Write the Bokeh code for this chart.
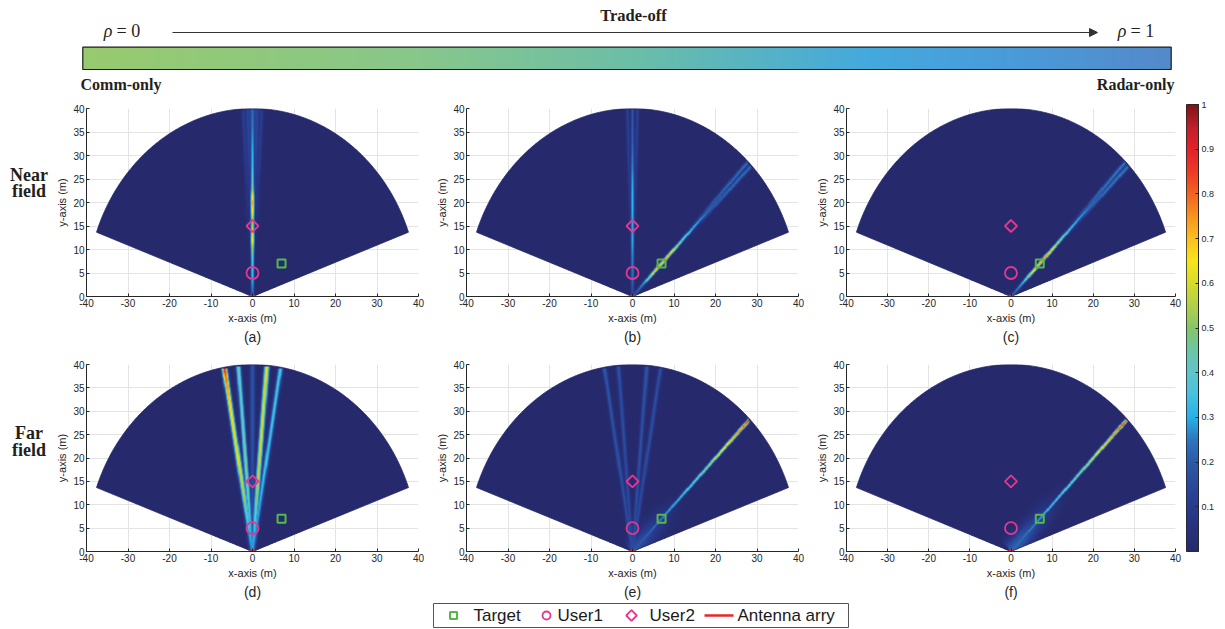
import numpy as np
from bokeh.plotting import figure
from bokeh.layouts import column, row
from bokeh.models import (Range1d, FixedTicker, LinearColorMapper, Arrow, NormalHead, Title)
from bokeh.core.properties import value
from bokeh.embed import file_html
from bokeh.resources import INLINE

# ---------------- data ----------------
X_TICKS = [-40, -30, -20, -10, 0, 10, 20, 30, 40]
Y_TICKS = [0, 5, 10, 15, 20, 25, 30, 35, 40]
CB_TICKS = [0.1, 0.2, 0.3, 0.4, 0.5, 0.6, 0.7, 0.8, 0.9, 1.0]
PANEL_NAMES = ["(a)", "(b)", "(c)", "(d)", "(e)", "(f)"]
ROW_NAMES = [["Near", "field"], ["Far", "field"]]
LEGEND_LABELS = ["Target", "User1", "User2", "Antenna arry"]
TOP_LEFT = "Comm-only"
TOP_RIGHT = "Radar-only"
TOP_MID = "Trade-off"

TARGET_X, TARGET_Y = [7.0], [7.0]
USER1_X, USER1_Y = [0.0], [5.0]
USER2_X, USER2_Y = [0.0], [15.0]
ANTENNA_X, ANTENNA_Y = [-0.6, 0.6], [0.0, 0.0]

SECTOR_R = 40.0
SECTOR_MIN_DEG, SECTOR_MAX_DEG = 20.0, 160.0

R_SAMPLES = [0, 4, 8, 12, 16, 20, 24, 28, 32, 36, 40]

# each beam: (direction deg, half-width m, normalised gain at R_SAMPLES)
BEAMS_A = [
    (90.0, 0.26, [0.20, 0.32, 0.36, 0.65, 0.52, 0.76, 0.40, 0.33, 0.30, 0.26, 0.23]),
    (88.3, 0.30, [0.00, 0.00, 0.02, 0.04, 0.06, 0.08, 0.10, 0.12, 0.14, 0.15, 0.15]),
    (91.7, 0.30, [0.00, 0.00, 0.02, 0.04, 0.06, 0.08, 0.10, 0.12, 0.14, 0.15, 0.15]),
    (86.8, 0.35, [0.00, 0.00, 0.00, 0.02, 0.04, 0.06, 0.08, 0.10, 0.11, 0.12, 0.12]),
    (93.2, 0.35, [0.00, 0.00, 0.00, 0.02, 0.04, 0.06, 0.08, 0.10, 0.11, 0.12, 0.12]),
    (90.0, 1.00, [0.00, 0.00, 0.00, 0.00, 0.03, 0.06, 0.09, 0.12, 0.14, 0.15, 0.16]),
]
BEAMS_B = [
    (90.0, 0.24, [0.12, 0.24, 0.26, 0.30, 0.30, 0.32, 0.30, 0.26, 0.22, 0.20, 0.18]),
    (88.3, 0.30, [0.00, 0.00, 0.00, 0.03, 0.05, 0.07, 0.09, 0.11, 0.12, 0.13, 0.13]),
    (91.7, 0.30, [0.00, 0.00, 0.00, 0.03, 0.05, 0.07, 0.09, 0.11, 0.12, 0.13, 0.13]),
    (45.0, 0.25, [0.15, 0.30, 0.74, 0.76, 0.48, 0.34, 0.27, 0.20, 0.14, 0.10, 0.08]),
    (44.2, 0.30, [0.00, 0.00, 0.00, 0.00, 0.02, 0.06, 0.13, 0.20, 0.23, 0.24, 0.24]),
    (45.8, 0.30, [0.00, 0.00, 0.00, 0.00, 0.02, 0.06, 0.13, 0.20, 0.23, 0.24, 0.24]),
]
BEAMS_C = [
    (45.0, 0.25, [0.18, 0.32, 0.72, 0.80, 0.56, 0.37, 0.30, 0.24, 0.18, 0.14, 0.12]),
    (44.2, 0.30, [0.00, 0.00, 0.00, 0.00, 0.02, 0.07, 0.14, 0.21, 0.25, 0.26, 0.26]),
    (45.8, 0.30, [0.00, 0.00, 0.00, 0.00, 0.02, 0.07, 0.14, 0.21, 0.25, 0.26, 0.26]),
]
BEAMS_D = [
    (99.8, 0.42, [0.28, 0.32, 0.42, 0.55, 0.60, 0.63, 0.64, 0.66, 0.70, 0.78, 0.90]),
    (94.9, 0.40, [0.26, 0.30, 0.36, 0.42, 0.46, 0.48, 0.46, 0.44, 0.42, 0.42, 0.44]),
    (85.0, 0.42, [0.28, 0.32, 0.42, 0.52, 0.58, 0.60, 0.62, 0.62, 0.62, 0.62, 0.62]),
    (80.2, 0.40, [0.24, 0.28, 0.30, 0.32, 0.34, 0.35, 0.35, 0.36, 0.36, 0.37, 0.37]),
    (90.0, 0.40, [0.20, 0.20, 0.18, 0.16, 0.16, 0.16, 0.17, 0.18, 0.18, 0.18, 0.18]),
]
BEAMS_E = [
    (99.8, 0.35, [0.15, 0.16, 0.16, 0.17, 0.17, 0.18, 0.18, 0.18, 0.19, 0.19, 0.20]),
    (94.9, 0.35, [0.15, 0.15, 0.15, 0.16, 0.16, 0.16, 0.17, 0.17, 0.17, 0.17, 0.18]),
    (85.0, 0.35, [0.15, 0.16, 0.16, 0.17, 0.17, 0.18, 0.18, 0.18, 0.19, 0.19, 0.19]),
    (80.2, 0.35, [0.15, 0.15, 0.15, 0.16, 0.16, 0.16, 0.17, 0.17, 0.17, 0.17, 0.17]),
    (45.0, 0.25, [0.20, 0.22, 0.25, 0.30, 0.34, 0.40, 0.48, 0.58, 0.70, 0.80, 0.92]),
    (45.0, 1.50, [0.18, 0.15, 0.10, 0.05, 0.00, 0.00, 0.00, 0.00, 0.00, 0.00, 0.00]),
]
BEAMS_F = [
    (45.0, 0.25, [0.22, 0.25, 0.28, 0.33, 0.37, 0.43, 0.50, 0.60, 0.72, 0.82, 0.92]),
    (45.0, 1.50, [0.22, 0.20, 0.14, 0.08, 0.03, 0.00, 0.00, 0.00, 0.00, 0.00, 0.00]),
]
PANEL_BEAMS = [BEAMS_A, BEAMS_B, BEAMS_C, BEAMS_D, BEAMS_E, BEAMS_F]

# ---------------- style ----------------
GREEN = "#55B948"
MAGENTA = "#E4378F"
RED = "#E8262A"
AXC = "#262626"
GRIDC = "#E4E4E4"
SANS = "Liberation Sans"
SERIF = "Liberation Serif"
INK = "#231F20"

CMAP_ANCHORS = [
    (0.00, "#262A6C"), (0.10, "#283A8F"), (0.20, "#2C5AA8"), (0.25, "#2D77BE"),
    (0.30, "#27B2E8"), (0.35, "#48C1E0"), (0.40, "#5FC5CA"), (0.45, "#6CC5A6"),
    (0.50, "#86C66A"), (0.55, "#B0D04A"), (0.60, "#D6DC2A"), (0.65, "#F8E51A"),
    (0.70, "#FAC01E"), (0.75, "#F7941E"), (0.80, "#F26522"), (0.85, "#EE3A24"),
    (0.90, "#E3222A"), (0.95, "#C0202A"), (1.00, "#7E1416"),
]
TRADE_ANCHORS = [
    (0.00, "#98CA6E"), (0.30, "#88C78A"), (0.50, "#6DBEA6"), (0.72, "#44A9DD"),
    (0.86, "#4A9AD8"), (1.00, "#5489CA"),
]


def interp_palette(anchors, n=256):
    pos = np.array([a[0] for a in anchors])
    rgb = np.array([[int(h[i:i + 2], 16) for i in (1, 3, 5)] for _, h in anchors], float)
    out = []
    for v in np.linspace(0, 1, n):
        c = [int(round(np.interp(v, pos, rgb[:, k]))) for k in range(3)]
        out.append("#%02x%02x%02x" % tuple(c))
    return out


PAL = interp_palette(CMAP_ANCHORS)
TRADE_PAL = interp_palette(TRADE_ANCHORS)
cmap = LinearColorMapper(palette=PAL, low=0, high=1, nan_color="rgba(0,0,0,0)")

NX, NY = 640, 320


def field(beams):
    xc = -SECTOR_R + (np.arange(NX) + 0.5) * 2 * SECTOR_R / NX
    yc = (np.arange(NY) + 0.5) * SECTOR_R / NY
    X, Y = np.meshgrid(xc, yc)
    R = np.hypot(X, Y)
    TH = np.degrees(np.arctan2(Y, X))
    Z = np.zeros_like(R)
    for ang, sig, prof in beams:
        a = np.radians(ang)
        along = X * np.cos(a) + Y * np.sin(a)
        perp = -X * np.sin(a) + Y * np.cos(a)
        gain = np.interp(R, R_SAMPLES, prof)
        v = gain * np.exp(-0.5 * (perp / sig) ** 2)
        v[along < 0] = 0
        Z = np.maximum(Z, v)
    Z = np.clip(Z, 0, 1)
    # keep the raster just inside the smooth sector patch drawn below it
    inside = (R <= SECTOR_R - 0.25) & (TH >= SECTOR_MIN_DEG + 0.5) & (TH <= SECTOR_MAX_DEG - 0.5)
    Z[~inside] = np.nan
    return Z.astype(np.float32)


def sector_outline():
    t = np.radians(np.linspace(SECTOR_MIN_DEG, SECTOR_MAX_DEG, 241))
    xs = np.concatenate([[0.0], SECTOR_R * np.cos(t), [0.0]])
    ys = np.concatenate([[0.0], SECTOR_R * np.sin(t), [0.0]])
    return xs, ys


SECTOR_XS, SECTOR_YS = sector_outline()


def style_axis(ax, label, ticks):
    ax.axis_label = label
    ax.axis_label_text_font = SANS
    ax.axis_label_text_font_size = "11px"
    ax.axis_label_text_font_style = "normal"
    ax.axis_label_text_color = AXC
    ax.axis_label_standoff = 2
    ax.major_label_text_font = SANS
    ax.major_label_text_font_size = "10px"
    ax.major_label_text_color = AXC
    ax.major_label_standoff = 2
    ax.major_label_overrides = {t: str(t) for t in ticks}
    ax.axis_line_color = AXC
    ax.major_tick_line_color = AXC
    ax.major_tick_in = 3
    ax.major_tick_out = 0
    ax.minor_tick_line_color = None


def make_panel(idx, height, mb_bottom, mb_right, frame_w):
    p = figure(width=32 + frame_w + mb_right, height=height,
               x_range=Range1d(-40, 40), y_range=Range1d(0, 40),
               output_backend="svg", toolbar_location=None,
               min_border_left=32, min_border_right=mb_right,
               min_border_top=8, min_border_bottom=mb_bottom)
    p.outline_line_color = None
    p.xaxis.ticker = FixedTicker(ticks=X_TICKS)
    p.yaxis.ticker = FixedTicker(ticks=Y_TICKS)
    style_axis(p.xaxis[0], "x-axis (m)", X_TICKS)
    style_axis(p.yaxis[0], "y-axis (m)", Y_TICKS)
    p.grid.grid_line_color = GRIDC
    p.grid.grid_line_width = 1
    p.patch(SECTOR_XS, SECTOR_YS, fill_color=PAL[0], line_color=PAL[0], line_width=0.8)
    p.image(image=[field(PANEL_BEAMS[idx])], x=-SECTOR_R, y=0, dw=2 * SECTOR_R, dh=SECTOR_R,
            color_mapper=cmap)
    p.line(ANTENNA_X, ANTENNA_Y, line_color=RED, line_width=3.5)
    p.scatter(TARGET_X, TARGET_Y, marker="square", size=8, fill_color=None,
              line_color=GREEN, line_width=2)
    p.scatter(USER1_X, USER1_Y, marker="circle", size=12, fill_color=None,
              line_color=MAGENTA, line_width=1.8)
    p.scatter(USER2_X, USER2_Y, marker="square", angle=np.pi / 4, size=8.5, fill_color=None,
              line_color=MAGENTA, line_width=1.8)
    p.add_layout(Title(text=PANEL_NAMES[idx], align="center", text_font=SANS,
                       text_font_size="14px", text_font_style="normal",
                       text_color=AXC, standoff=0), "below")
    return p


def make_row_label(lines, height, y_first):
    p = figure(width=53, height=height, x_range=Range1d(0, 45), y_range=Range1d(0, height),
               output_backend="svg", toolbar_location=None, min_border=0, min_border_left=8,
               x_axis_location=None, y_axis_location=None)
    p.grid.visible = False
    p.outline_line_color = None
    p.text(x=[20.5, 20.5], y=[y_first, y_first - 23], text=lines,
           text_font=value(SERIF), text_font_style="bold", text_font_size="18px",
           text_align="center", text_baseline="middle", text_color=INK)
    return p


# ---------------- top banner ----------------
top = figure(width=1217, height=100, x_range=Range1d(0, 1209), y_range=Range1d(0, 92),
             output_backend="svg", toolbar_location=None, min_border=0,
             min_border_left=8, min_border_top=8,
             x_axis_location=None, y_axis_location=None)
top.grid.visible = False
top.outline_line_color = None
top.image(image=[np.linspace(0, 1, 256).reshape(1, -1)], x=74.3, y=31, dw=1088.4, dh=22.3,
          color_mapper=LinearColorMapper(palette=TRADE_PAL, low=0, high=1))
top.quad(left=[74.3], right=[1162.7], bottom=[31], top=[53.3], fill_color=None,
         line_color="#1a1a1a", line_width=1.2)
top.add_layout(Arrow(x_start=164, y_start=68, x_end=1089, y_end=68, line_color="#333333",
                     line_width=1, end=NormalHead(size=8, fill_color="#333333",
                                                  line_color="#333333")))
top.text(x=[625], y=[85], text=[TOP_MID], text_font=value(SERIF), text_font_style="bold",
         text_font_size="16.5px", text_align="center", text_baseline="middle",
         text_color=INK)
top.text(x=[104, 1118], y=[70, 70], text=["ρ", "ρ"], text_font=value(SERIF),
         text_font_style="italic", text_font_size="18px", text_align="right",
         text_baseline="middle", text_color=INK)
top.text(x=[108, 1122], y=[70, 70], text=["= 0", "= 1"], text_font=value(SERIF),
         text_font_size="18px", text_align="left", text_baseline="middle",
         text_color=INK)
top.text(x=[72], y=[16], text=[TOP_LEFT], text_font=value(SERIF), text_font_style="bold",
         text_font_size="16px", text_align="left", text_baseline="middle",
         text_color=INK)
top.text(x=[1166], y=[16], text=[TOP_RIGHT], text_font=value(SERIF), text_font_style="bold",
         text_font_size="16px", text_align="right", text_baseline="middle",
         text_color=INK)

# ---------------- panels ----------------
NEAR_H, FAR_H = 256, 246
fa = make_panel(0, NEAR_H, 60, 15, 333)
fb = make_panel(1, NEAR_H, 60, 15, 333)
fc = make_panel(2, NEAR_H, 60, 6, 330)
fd = make_panel(3, FAR_H, 51, 15, 333)
fe = make_panel(4, FAR_H, 51, 15, 333)
ff = make_panel(5, FAR_H, 51, 6, 330)
lab_near = make_row_label(ROW_NAMES[0], NEAR_H, 166)
lab_far = make_row_label(ROW_NAMES[1], FAR_H, 156)

# ---------------- colour bar ----------------
cb = figure(width=36, height=NEAR_H + FAR_H, x_range=Range1d(0, 1), y_range=Range1d(0, 1),
            output_backend="svg", toolbar_location=None,
            min_border_left=5, min_border_right=17, min_border_top=4, min_border_bottom=51,
            x_axis_location=None, y_axis_location="right")
cb.grid.visible = False
cb.image(image=[np.linspace(0, 1, 256).reshape(-1, 1)], x=0, y=0, dw=1, dh=1, color_mapper=cmap)
cb.outline_line_color = AXC
cb.yaxis.ticker = FixedTicker(ticks=CB_TICKS)
cbax = cb.yaxis[0]
cbax.major_label_text_font = SANS
cbax.major_label_text_font_size = "9px"
cbax.major_label_text_color = AXC
cbax.major_label_standoff = 3
cbax.axis_line_color = AXC
cbax.major_tick_line_color = AXC
cbax.major_tick_in = 3
cbax.major_tick_out = 0
cbax.minor_tick_line_color = None

# ---------------- legend (drawn as a boxed key) ----------------
lg = figure(width=1217, height=27, x_range=Range1d(0, 1209), y_range=Range1d(0, 27),
            output_backend="svg", toolbar_location=None, min_border=0, min_border_left=8,
            x_axis_location=None, y_axis_location=None)
lg.grid.visible = False
lg.outline_line_color = None
KEY_Y = 14
lg.quad(left=[425], right=[840], bottom=[2], top=[26], fill_color="white",
        line_color="#555555", line_width=1)
lg.scatter([445], [KEY_Y], marker="square", size=7, fill_color=None, line_color=GREEN,
           line_width=2)
lg.scatter([538], [KEY_Y], marker="circle", size=8, fill_color=None, line_color=MAGENTA,
           line_width=1.8)
lg.scatter([623], [KEY_Y], marker="square", angle=np.pi / 4, size=7.5, fill_color=None,
           line_color=MAGENTA, line_width=1.8)
lg.line([696, 725], [KEY_Y, KEY_Y], line_color=RED, line_width=2.5)
lg.text(x=[465, 549, 641, 729], y=[KEY_Y] * 4, text=LEGEND_LABELS,
        text_font=value(SANS), text_font_size="17px", text_align="left",
        text_baseline="middle", text_color="#1a1a1a")

layout = column(
    top,
    row(column(row(lab_near, fa, fb, fc), row(lab_far, fd, fe, ff)), cb),
    lg,
)

open("out.html", "w").write(file_html(layout, INLINE))
